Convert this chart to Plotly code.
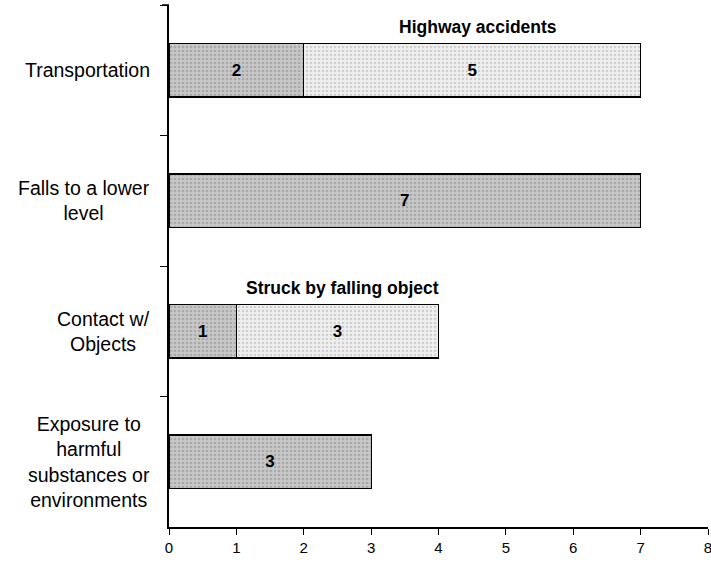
import plotly.graph_objects as go

categories = ["Transportation", "Falls to a lower<br>level", "Contact w/<br>Objects",
              "Exposure to<br>harmful<br>substances or<br>environments"]
primary_values = [2, 7, 1, 3]
secondary_values = [5, 0, 3, 0]
callouts = [("Highway accidents", 0), ("Struck by falling object", 2)]
x_ticks = [0, 1, 2, 3, 4, 5, 6, 7, 8]

cat_keys = [c.replace("<br>", " ") for c in categories]
FONT = "Liberation Sans, Arial"

fig = go.Figure()
fig.add_trace(go.Bar(
    y=cat_keys, x=primary_values, orientation="h",
    marker=dict(color="#b9b9b9", line=dict(color="black", width=1.2),
                pattern=dict(shape=".", fgcolor="#8a8a8a", bgcolor="#c8c8c8", size=4, solidity=0.35)),
    text=[str(v) if v else "" for v in primary_values],
    textposition="inside", insidetextanchor="middle",
    textfont=dict(family=FONT, size=17, color="black", weight="bold"),
    width=0.41, showlegend=False, hoverinfo="skip"))
fig.add_trace(go.Bar(
    y=cat_keys, x=secondary_values, orientation="h",
    marker=dict(color="#dedede", line=dict(color="black", width=1.2),
                pattern=dict(shape=".", fgcolor="#b0b0b0", bgcolor="#efefef", size=4, solidity=0.3)),
    text=[str(v) if v else "" for v in secondary_values],
    textposition="inside", insidetextanchor="middle",
    textfont=dict(family=FONT, size=17, color="black", weight="bold"),
    width=0.41, showlegend=False, hoverinfo="skip"))

annotations = []
for label, key in zip(categories, cat_keys):
    annotations.append(dict(
        x=0, xref="paper", y=key, yref="y", xanchor="right", yanchor="middle",
        xshift=-17, text=label, showarrow=False, align="center",
        font=dict(family=FONT, size=19.5, color="black")))

for text, idx in callouts:
    start = primary_values[idx]
    center = start + secondary_values[idx] / 2
    annotations.append(dict(
        x=center + 0.08, xref="x", y=cat_keys[idx], yref="y", yanchor="bottom",
        yshift=31, text="<b>" + text + "</b>", showarrow=False,
        font=dict(family=FONT, size=17.5, color="black")))

fig.update_layout(
    width=711, height=565,
    margin=dict(l=169, r=3, t=5, b=38),
    barmode="stack", bargap=0.59,
    plot_bgcolor="white", paper_bgcolor="white",
    annotations=annotations,
    shapes=[dict(type="line", xref="paper", yref="paper", x0=-7 / 539, x1=0, y0=1, y1=1,
                 line=dict(color="black", width=1.5))],
    xaxis=dict(range=[0, 8], tickvals=x_ticks, ticks="outside", ticklen=6, tickcolor="black",
               showline=True, linecolor="black", linewidth=1.5, showgrid=False, zeroline=False,
               automargin=False, ticklabeloverflow="allow",
               tickfont=dict(family=FONT, size=15, color="black"), fixedrange=True),
    yaxis=dict(categoryorder="array", categoryarray=cat_keys, autorange="reversed",
               showticklabels=False, ticks="outside", tickson="boundaries", ticklen=7,
               tickcolor="black", showline=True, linecolor="black", linewidth=1.5,
               automargin=False,
               showgrid=False, zeroline=False, fixedrange=True),
)

fig.write_html("out.html", config={"displayModeBar": False},
               post_script="document.body.style.margin='0';document.body.style.overflow='hidden';")
